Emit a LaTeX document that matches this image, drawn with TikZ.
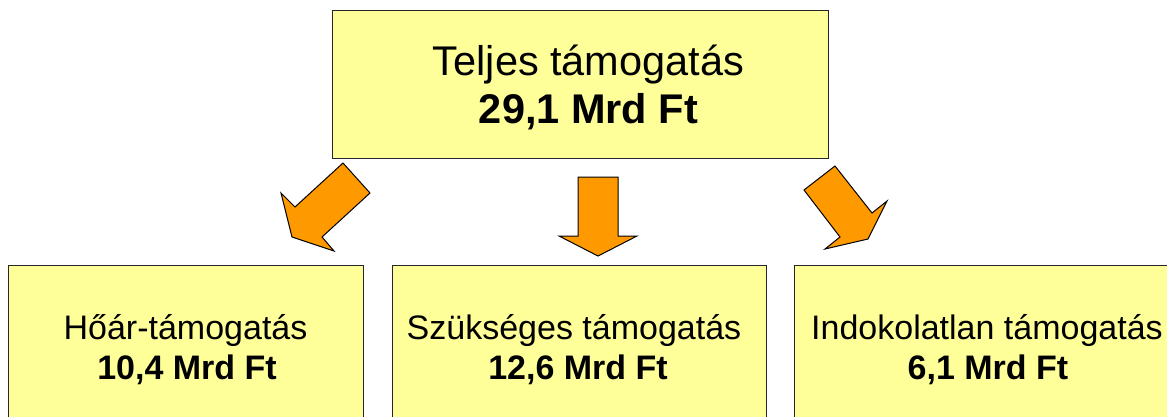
\documentclass[tikz,border=0pt]{standalone}
\usepackage{fontspec}
\setmainfont{Liberation Sans}
\definecolor{boxfill}{HTML}{FFFF99}
\definecolor{arrowfill}{HTML}{FF9900}
\tikzset{
  box/.style={draw=black!85, line width=1pt, fill=boxfill, inner sep=0pt},
  bigtext/.style={inner sep=0pt, anchor=base, font=\fontsize{41.5}{48}\selectfont},
  bigvalue/.style={inner sep=0pt, anchor=base, font=\fontsize{41.5}{48}\selectfont\bfseries},
  smalltext/.style={inner sep=0pt, anchor=base, font=\fontsize{34}{40}\selectfont},
  smallvalue/.style={inner sep=0pt, anchor=base, font=\fontsize{34}{40}\selectfont\bfseries},
  blockarrow/.style={draw=black, line width=1pt, fill=arrowfill, line join=miter}
}
\begin{document}
\begin{tikzpicture}[x=1pt, y=-1pt]
  \clip (0,0) rectangle (1167,416);
  \fill[white] (0,0) rectangle (1167,416);

  % total
  \node[box, minimum width=496pt, minimum height=148pt] (total) at (580,84) {};
  \node[bigtext]  (totalname)  at (588.5,75)  {Teljes támogatás};
  \node[bigvalue] (totalvalue) at (588.5,123) {29,1 Mrd Ft};

  % the three parts (boxes run past the lower edge)
  \node[box, minimum width=355pt, minimum height=170pt, anchor=north] (heat) at (185.5,265) {};
  \node[box, minimum width=374pt, minimum height=170pt, anchor=north] (need) at (579,265) {};
  \node[box, minimum width=374pt, minimum height=170pt, anchor=north west] (unjust) at (794,265) {};

  \node[smalltext]  (heatname)    at (185.5,339) {Hőár-támogatás};
  \node[smallvalue] (heatvalue)   at (187,379)   {10,4 Mrd Ft};
  \node[smalltext]  (needname)    at (574,339)   {Szükséges támogatás};
  \node[smallvalue] (needvalue)   at (578,379)   {12,6 Mrd Ft};
  \node[smalltext]  (unjustname)  at (987,339)   {Indokolatlan támogatás};
  \node[smallvalue] (unjustvalue) at (988,379)   {6,1 Mrd Ft};

  % block arrows from the total to each part
  \draw[blockarrow] (343,163) -- (370,193) -- (322,237) -- (334,251)
        -- (292,237) -- (281,193) -- (295,207) -- cycle;
  \draw[blockarrow] (578,177) -- (618,177) -- (618,236) -- (637,236)
        -- (598,256) -- (559,236) -- (578,236) -- cycle;
  \draw[blockarrow] (835,166) -- (872,213) -- (887,201) -- (868,239)
        -- (825,249) -- (840,237) -- (804,190) -- cycle;
\end{tikzpicture}
\end{document}
